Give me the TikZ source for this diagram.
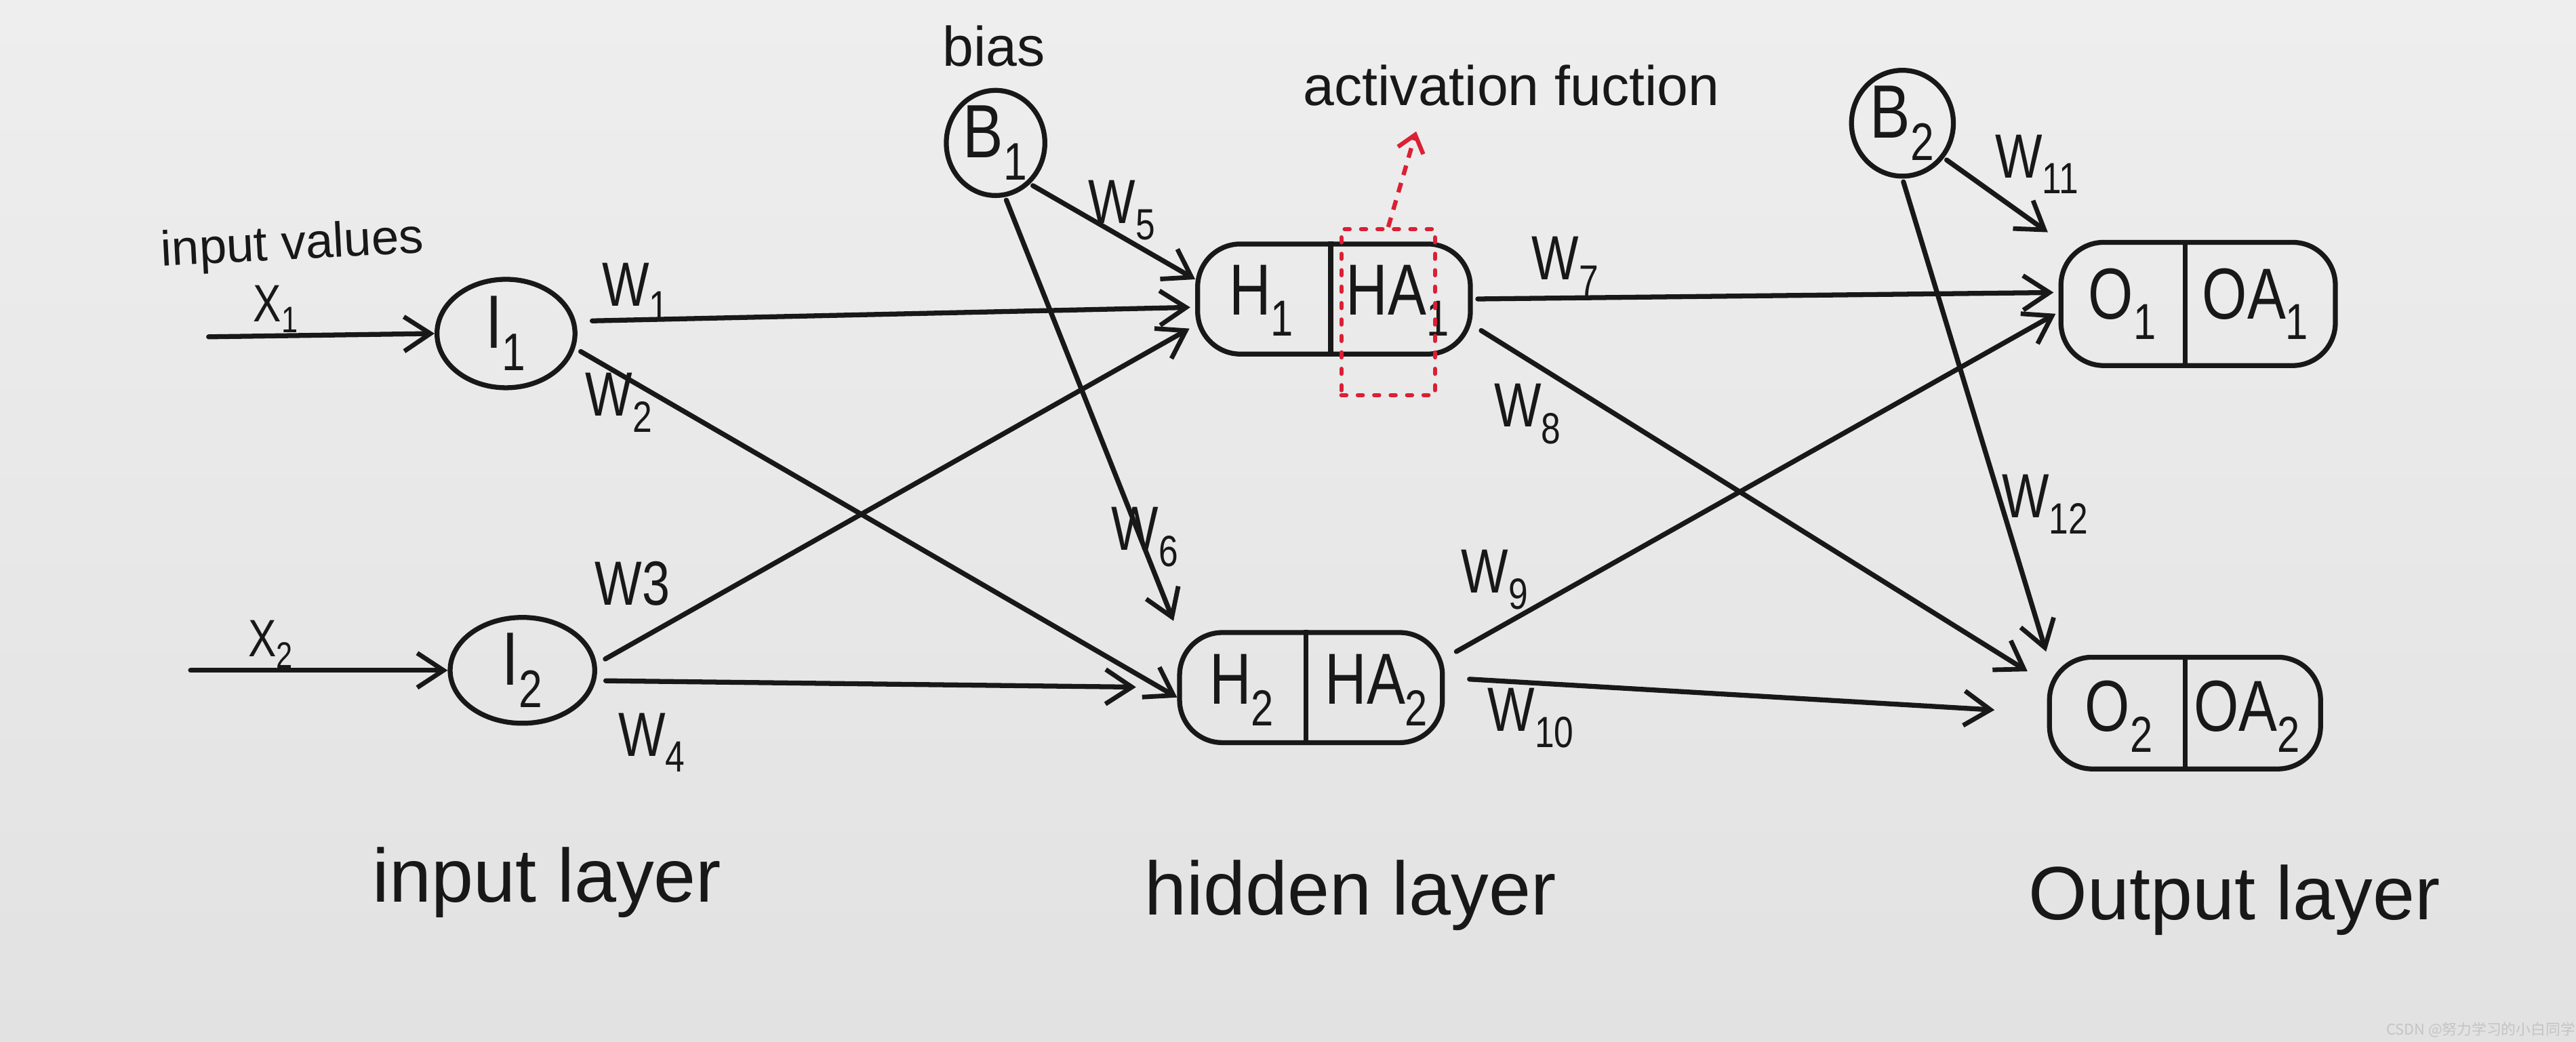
\documentclass[tikz,border=0pt]{standalone}
\usepackage{fontspec}
\setmainfont{Liberation Sans}
\newfontfamily\handnarrow[FakeStretch=0.8]{Liberation Sans}
\newfontfamily\cjkfont{Noto Sans CJK SC}
\usetikzlibrary{arrows.meta,shapes.geometric}
\definecolor{paper}{RGB}{238,238,238}
\definecolor{paperlow}{RGB}{226,226,226}
\definecolor{ink}{RGB}{24,24,24}
\definecolor{redink}{RGB}{218,32,52}
\definecolor{wmark}{RGB}{196,196,196}
\begin{document}
\begin{tikzpicture}[x=1pt,y=-1pt,color=ink,line width=3pt,
  wire/.style={-{Straight Barb[length=16pt,width=21pt,line width=2.8pt]},line cap=round},
  neuron/.style={ellipse,draw,line width=3pt,inner sep=0pt,font=\handnarrow\fontsize{46}{50}\selectfont},
  unitbox/.style={rectangle,rounded corners=26pt,draw,line width=3pt,inner sep=0pt},
  unittxt/.style={font=\handnarrow\fontsize{44}{48}\selectfont,inner sep=0pt},
  wlbl/.style={font=\handnarrow\fontsize{38}{42}\selectfont,inner sep=0pt},
  xlbl/.style={font=\handnarrow\fontsize{32}{36}\selectfont,inner sep=0pt},
  note/.style={font=\fontsize{34}{40}\selectfont,inner sep=0pt},
  layer/.style={font=\fontsize{46}{52}\selectfont,inner sep=0pt},
  redbox/.style={draw=redink,line width=2.6pt,dash pattern=on 3pt off 7pt,line cap=round,inner sep=0pt},
  redarrow/.style={draw=redink,line width=2.6pt,dash pattern=on 6pt off 5pt,-{Straight Barb[length=10pt,width=16pt,line width=2.6pt]}},
]
\useasboundingbox (0,0) rectangle (1568,634);
\shade[top color=paper,bottom color=paperlow] (0,0) rectangle (1568,634);

% neurons
\node[neuron,minimum width=84pt,minimum height=66pt] (I1) at (308,203) {I\textsubscript{1}};
\node[neuron,minimum width=88pt,minimum height=62pt] (I2) at (318,408) {I\textsubscript{2}};
\node[neuron,minimum width=60pt,minimum height=64pt] (B1) at (606,87) {B\textsubscript{1}};
\node[neuron,minimum width=62pt,minimum height=64pt] (B2) at (1158,75) {B\textsubscript{2}};

% hidden units
\node[unitbox,minimum width=166pt,minimum height=67pt] (H1) at (812,182) {};
\node[unittxt] (H1n) at (768,183) {H\textsubscript{1}};
\node[unittxt] (H1a) at (851,183) {HA\textsubscript{1}};
\draw ([xshift=-2pt]H1.north) -- ([xshift=-2pt]H1.south);

\node[unitbox,minimum width=160pt,minimum height=67pt] (H2) at (798,418.5) {};
\node[unittxt] (H2n) at (756,420) {H\textsubscript{2}};
\node[unittxt] (H2a) at (838,420) {HA\textsubscript{2}};
\draw ([xshift=-3pt]H2.north) -- ([xshift=-3pt]H2.south);

% output units
\node[unitbox,minimum width=167pt,minimum height=75pt] (O1) at (1338,185) {};
\node[unittxt] (O1n) at (1292,185) {O\textsubscript{1}};
\node[unittxt] (O1a) at (1373,185) {OA\textsubscript{1}};
\draw ([xshift=-8pt]O1.north) -- ([xshift=-8pt]O1.south);

\node[unitbox,minimum width=165pt,minimum height=68pt] (O2) at (1330,434) {};
\node[unittxt] (O2n) at (1290,436) {O\textsubscript{2}};
\node[unittxt] (O2a) at (1368,436) {OA\textsubscript{2}};
\draw (O2.north) -- (O2.south);

% activation marker
\node[redbox,minimum width=57pt,minimum height=101pt] (act) at (845,190) {};
\coordinate (acttip) at (862,80);
\draw[redarrow] (act.north) -- (acttip);

% texts
\node[note] (biasl) at (605,28) {bias};
\node[note] (actl) at (920,52) {activation fuction};
\node[note,font=\fontsize{30}{34}\selectfont,rotate=3] (invl) at (178,150) {input values};
\node[xlbl] (x1l) at (168,188) {X\textsubscript{1}};
\node[xlbl] (x2l) at (165,392) {X\textsubscript{2}};

\node[wlbl] (w1) at (387,178) {W\textsubscript{1}};
\node[wlbl] (w2) at (377,245) {W\textsubscript{2}};
\node[wlbl] (w3) at (385,355) {W3};
\node[wlbl] (w4) at (397,452) {W\textsubscript{4}};
\node[wlbl] (w5) at (683,128) {W\textsubscript{5}};
\node[wlbl] (w6) at (697,327) {W\textsubscript{6}};
\node[wlbl] (w7) at (953,162) {W\textsubscript{7}};
\node[wlbl] (w8) at (930,252) {W\textsubscript{8}};
\node[wlbl] (w9) at (910,353) {W\textsubscript{9}};
\node[wlbl] (w10) at (932,437) {W\textsubscript{10}};
\node[wlbl] (w11) at (1240,100) {W\textsubscript{11}};
\node[wlbl] (w12) at (1245,307) {W\textsubscript{12}};

\node[layer] (lin) at (333,537) {input layer};
\node[layer] (lhid) at (822,545) {hidden layer};
\node[layer] (lout) at (1360,548) {Output layer};

\node[font=\cjkfont\fontsize{9}{10}\selectfont,text=wmark,inner sep=0pt] (wm) at (1510,627) {CSDN @努力学习的小白同学};

% connectors
\coordinate (x1s) at (127,205);
\coordinate (x2s) at (116,408);
\draw[wire] (x1s) -- (I1.west);
\draw[wire] (x2s) -- (I2.west);

\draw[wire,shorten <=10pt,shorten >=3pt] (I1.10) -- ([yshift=-5pt]H1.west);
\draw[wire,shorten <=4pt] (I1.-12) -- ([yshift=-6pt]H2.west);
\draw[wire,shorten <=6pt,shorten >=4pt] (I2.5) -- ([yshift=-16pt]H1.west);
\draw[wire,shorten <=6pt,shorten >=25pt] (I2.-8) -- (H2.west);

\draw[wire,shorten <=2pt] (B1.-50) -- ([yshift=12pt]H1.west);
\draw[wire,shorten <=2pt,shorten >=6pt] (B1.-80) -- (H2.north west);

\draw[wire,shorten <=3pt,shorten >=3pt] (H1.east) -- ([yshift=7pt]O1.west);
\draw[wire,shorten <=6pt,shorten >=14pt] ([yshift=-16pt]H1.east) -- ([yshift=18pt]O2.west);
\draw[wire,shorten <=8pt,shorten >=2pt] ([yshift=18pt]H2.east) -- ([yshift=-5pt]O1.west);
\draw[wire,shorten <=15pt,shorten >=32pt] ([yshift=6pt]H2.east) -- (O2.west);

\draw[wire,shorten <=2pt,shorten >=8pt] (B2.-40) -- (O1.north west);
\draw[wire,shorten <=2pt,shorten >=2pt] (B2.south) -- (O2.north west);
\end{tikzpicture}
\end{document}
